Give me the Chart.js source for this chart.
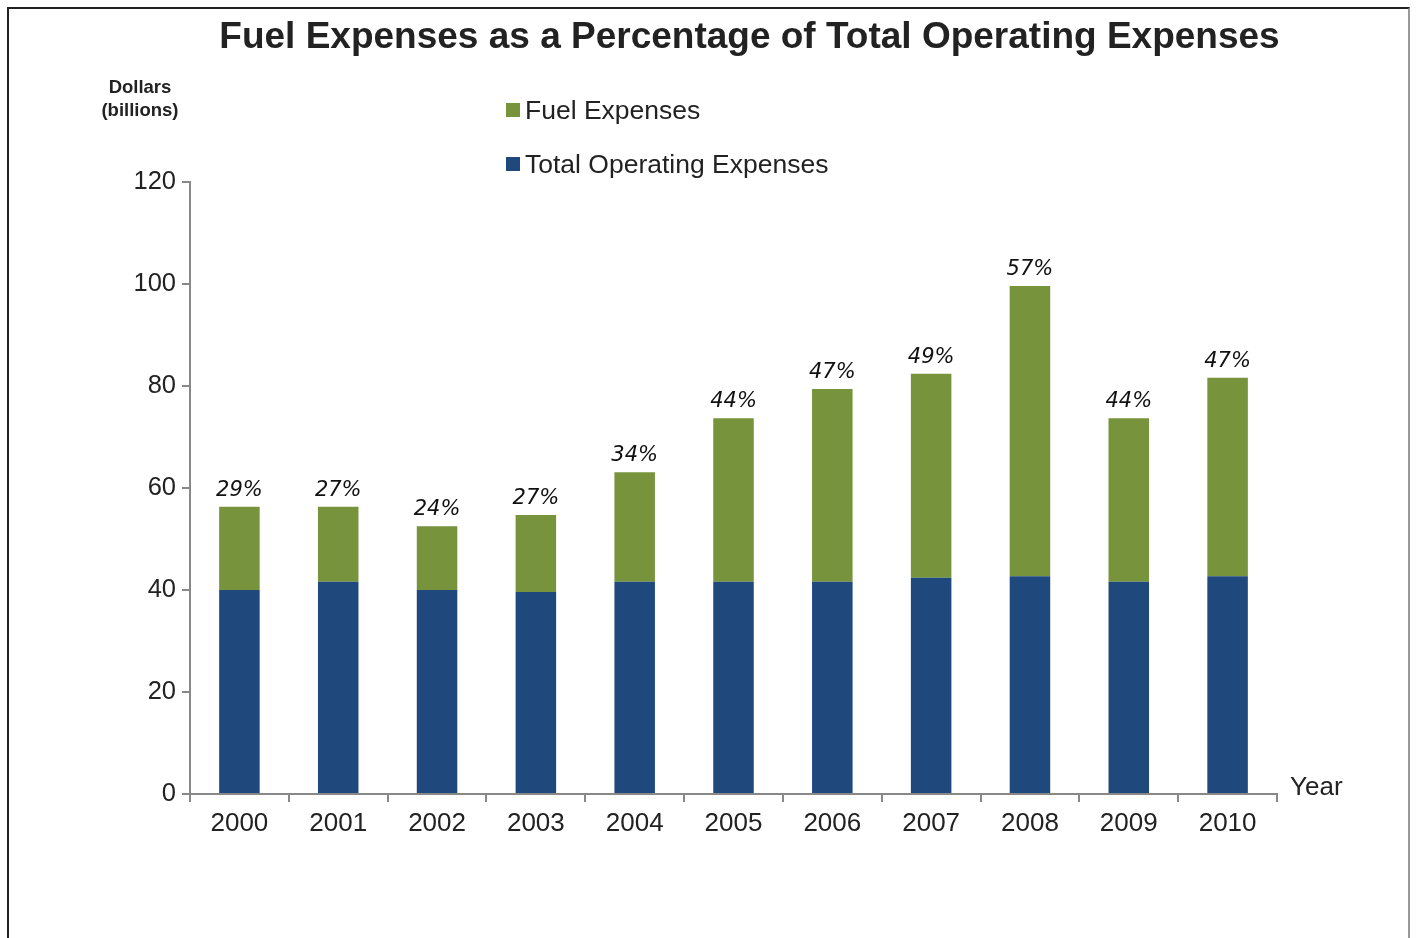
<!DOCTYPE html>
<html>
<head>
<meta charset="utf-8">
<script src="https://cdn.jsdelivr.net/npm/chart.js@4.4.1/dist/chart.umd.min.js"></script>
<style>
    html, body { margin: 0; padding: 0; background: #fff; }
    body { width: 1416px; height: 938px; position: relative; overflow: hidden; font-family: "Liberation Sans", Arial, sans-serif; color: #222; }
    #frame { position: absolute; left: 7px; top: 7px; width: 1403px; height: 960px; border: 2px solid #222; border-right-color: #999; box-sizing: border-box; }
    #wrap { position: absolute; left: 0; top: 0; width: 1416px; height: 938px; }
    #title { position: absolute; left: 0; width: 1499px; top: 15px; text-align: center; font-weight: bold; font-size: 37px; color: #222; }
    #ytitle { position: absolute; left: 80px; width: 120px; top: 75px; text-align: center; font-weight: bold; font-size: 18.5px; line-height: 23px; color: #222; }
    #legend { position: absolute; left: 506px; top: 93px; font-size: 26.5px; color: #222; }
    #legend div { height: 54px; line-height: 34px; white-space: nowrap; }
    #legend span.box { display: inline-block; width: 14px; height: 14px; margin-right: 5px; vertical-align: 2px; }
    #year { position: absolute; left: 1290px; top: 771px; font-size: 26px; color: #222; }
</style>
</head>
<body>
<div id="frame"></div>
<div id="wrap"><canvas id="myChart" width="1416" height="938"></canvas></div>
<div id="title">Fuel Expenses as a Percentage of Total Operating Expenses</div>
<div id="ytitle">Dollars<br>(billions)</div>
<div id="legend"></div>
<div id="year">Year</div>
<script>
// values, billions of dollars
const years = ["2000", "2001", "2002", "2003", "2004", "2005", "2006", "2007", "2008", "2009", "2010"];
const totalOperating = [40.0, 41.6, 40.0, 39.6, 41.6, 41.6, 41.6, 42.4, 42.7, 41.6, 42.7];
const fuelExpenses = [16.3, 14.7, 12.5, 15.1, 21.5, 32.1, 37.8, 40.0, 56.9, 32.1, 38.9];
const fuelShare = ["29%", "27%", "24%", "27%", "34%", "44%", "47%", "49%", "57%", "44%", "47%"];
const yTicks = [0, 20, 40, 60, 80, 100, 120];

const blue = "#1F487C";
const green = "#77933C";

// legend, fuel first like the original
const legendItems = [
    { label: "Fuel Expenses", color: green },
    { label: "Total Operating Expenses", color: blue }
];
const legendBox = document.getElementById("legend");
legendItems.forEach(item => {
    const row = document.createElement("div");
    row.innerHTML = '<span class="box" style="background:' + item.color + '"></span>' + item.label;
    legendBox.appendChild(row);
});

// percentage above each stacked bar
const shareLabels = {
    id: "shareLabels",
    afterDatasetsDraw(chart) {
        const ctx = chart.ctx;
        const meta = chart.getDatasetMeta(1);
        ctx.save();
        ctx.font = "italic 21px 'DejaVu Sans'";
        ctx.fillStyle = "#111";
        ctx.textAlign = "center";
        ctx.textBaseline = "bottom";
        meta.data.forEach((bar, i) => {
            ctx.fillText(fuelShare[i], bar.x, bar.y - 6);
        });
        ctx.restore();
    }
};

const config = {
    type: "bar",
    data: {
        labels: years,
        datasets: [{
            label: "Total Operating Expenses",
            backgroundColor: blue,
            data: totalOperating
        }, {
            label: "Fuel Expenses",
            backgroundColor: green,
            data: fuelExpenses
        }]
    },
    options: {
        responsive: false,
        animation: false,
        layout: {
            padding: { left: 110, right: 139, top: 182, bottom: 84 }
        },
        datasets: {
            bar: { categoryPercentage: 1, barPercentage: 0.41 }
        },
        plugins: {
            legend: { display: false },
            title: { display: false },
            tooltip: { enabled: false }
        },
        scales: {
            x: {
                stacked: true,
                afterFit: scale => { scale.height = 60; },
                border: { color: "#888", width: 2 },
                grid: { display: true, drawOnChartArea: false, color: "#888", lineWidth: 2, tickLength: 8, offset: true },
                ticks: {
                    color: "#222",
                    padding: 6,
                    font: { family: "'Liberation Sans', Arial", size: 26 }
                }
            },
            y: {
                stacked: true,
                min: 0,
                max: 120,
                afterFit: scale => { scale.width = 80; },
                afterBuildTicks: scale => { scale.ticks = yTicks.map(v => ({ value: v })); },
                border: { color: "#888", width: 2 },
                grid: { display: true, drawOnChartArea: false, color: "#888", lineWidth: 2, tickLength: 8 },
                ticks: {
                    color: "#222",
                    padding: 6,
                    font: { family: "'Liberation Sans', Arial", size: 25.5 }
                }
            }
        }
    },
    plugins: [shareLabels]
};

var myChart = new Chart(document.getElementById("myChart"), config);
</script>
</body>
</html>
